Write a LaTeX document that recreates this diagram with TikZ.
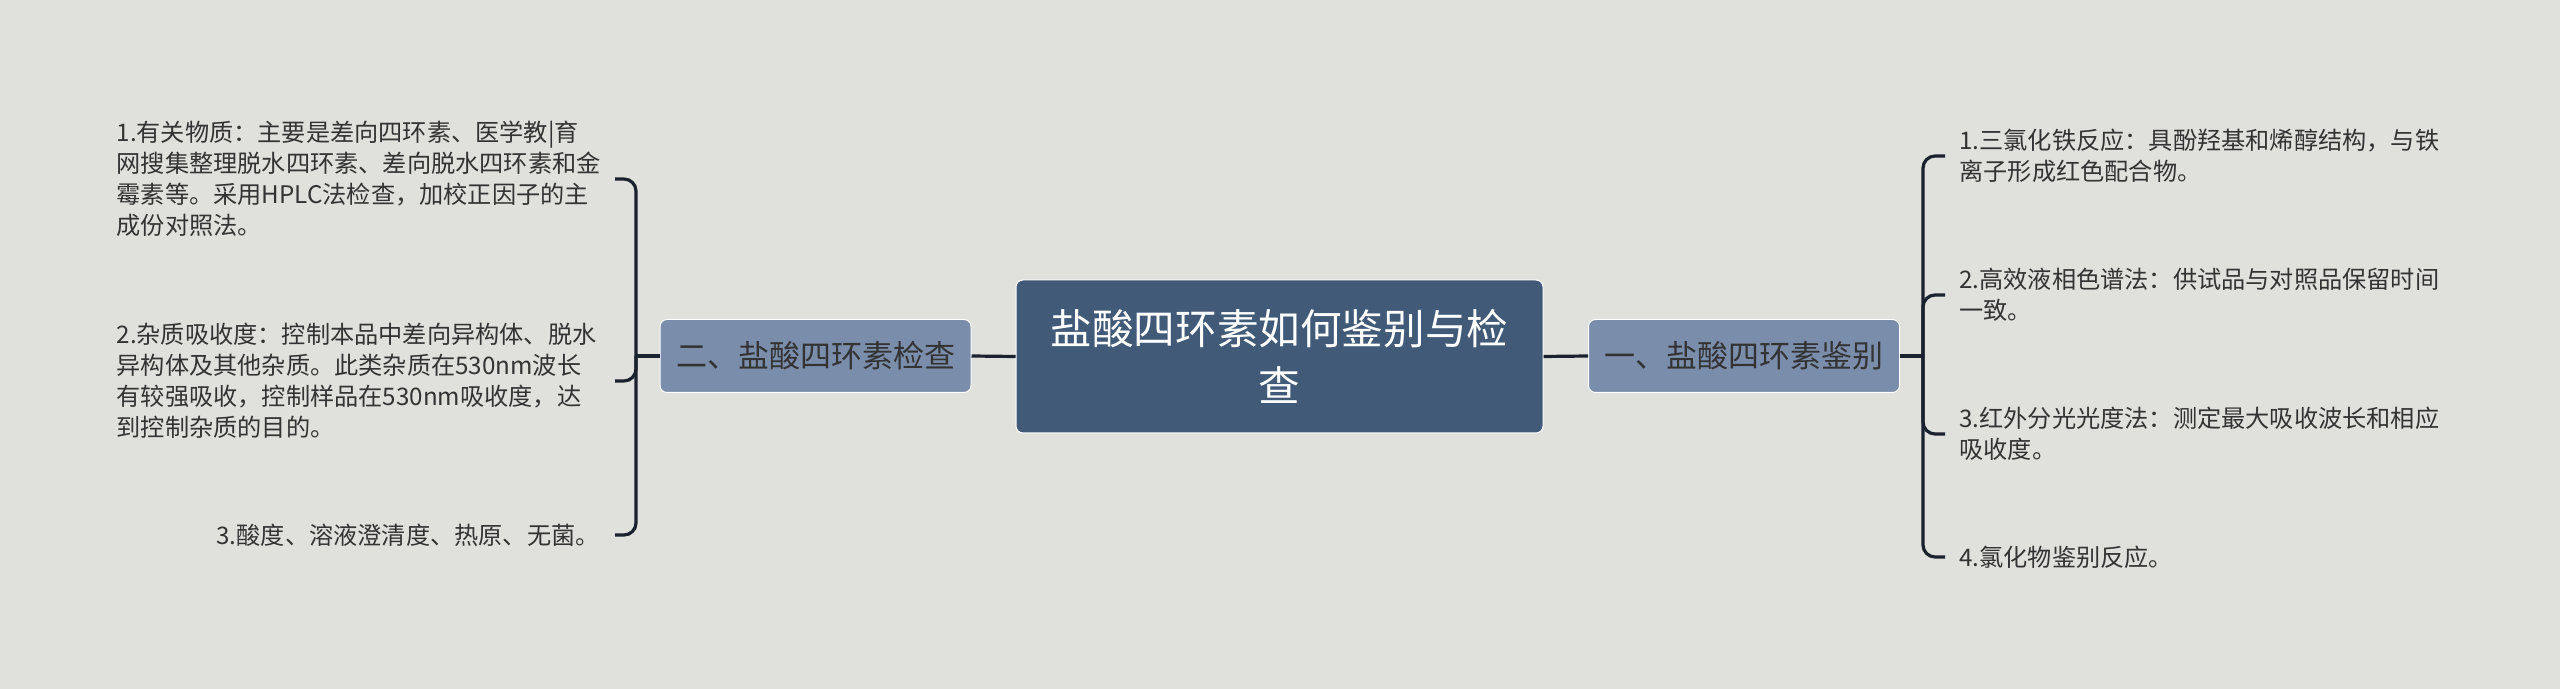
\documentclass[tikz,border=0pt]{standalone}
\usepackage{fontspec}
\setmainfont{Noto Sans CJK SC}
\definecolor{bgc}{HTML}{E0E1DC}
\definecolor{rootc}{HTML}{415A78}
\definecolor{subc}{HTML}{7A8EAB}
\definecolor{linec}{HTML}{1A2230}
\definecolor{txtc}{HTML}{333333}
\begin{document}
\begin{tikzpicture}[x=0.5pt,y=-0.5pt,
  rootbox/.style={draw=white, line width=0.5pt, fill=rootc, rounded corners=3.5pt,
    minimum width=263.5pt, minimum height=76.5pt, text=white, align=center, inner sep=0pt,
    font=\fontsize{20.8pt}{28.5pt}\selectfont},
  subbox/.style={draw=white, line width=0.5pt, fill=subc, rounded corners=3.5pt,
    minimum width=155.5pt, minimum height=36.5pt, text=txtc, inner sep=0pt,
    font=\fontsize{15.5pt}{18pt}\selectfont},
  leaf/.style={text=txtc, inner xsep=7pt, inner ysep=0pt,
    font=\fontsize{12.1pt}{15.5pt}\selectfont},
  conn/.style={draw=linec, line width=1.6pt},
  branch/.style={conn, rounded corners=6pt}]
\fill[bgc] (0,0) rectangle (2560,689);
\useasboundingbox (0,0) rectangle (2560,689);

\node[rootbox] (root) at (1279.5,356.5) {盐酸四环素如何鉴别与检\\查};
\node[subbox] (lsub) at (815.5,356) {二、盐酸四环素检查};
\node[subbox] (rsub) at (1744,356) {一、盐酸四环素鉴别};

\coordinate (ltrunk) at (636,356);
\coordinate (rtrunk) at (1923,356);

\node[leaf, anchor=east, text width=242pt, align=left] (l1) at (615,179)
  {1.有关物质：主要是差向四环素、医学教|育\\网搜集整理脱水四环素、差向脱水四环素和金\\霉素等。采用HPLC法检查，加校正因子的主\\成份对照法。};
\node[leaf, anchor=east, text width=242pt, align=left] (l2) at (615,381)
  {2.杂质吸收度：控制本品中差向异构体、脱水\\异构体及其他杂质。此类杂质在530nm波长\\有较强吸收，控制样品在530nm吸收度，达\\到控制杂质的目的。};
\node[leaf, anchor=east, inner xsep=7.5pt] (l3) at (615,535)
  {3.酸度、溶液澄清度、热原、无菌。};

\node[leaf, anchor=west, align=left] (r1) at (1945,156)
  {1.三氯化铁反应：具酚羟基和烯醇结构，与铁\\离子形成红色配合物。};
\node[leaf, anchor=west, align=left] (r2) at (1945,295)
  {2.高效液相色谱法：供试品与对照品保留时间\\一致。};
\node[leaf, anchor=west, align=left] (r3) at (1945,434)
  {3.红外分光光度法：测定最大吸收波长和相应\\吸收度。};
\node[leaf, anchor=west, align=left] (r4) at (1945,557)
  {4.氯化物鉴别反应。};

\draw[conn] (root.west) -- (lsub.east);
\draw[conn] (root.east) -- (rsub.west);
\draw[conn] (lsub.west) -- (ltrunk);
\draw[conn] (rsub.east) -- (rtrunk);

\draw[branch] (ltrunk) |- (l1.east);
\draw[branch] (ltrunk) |- (l2.east);
\draw[branch] (ltrunk) |- (l3.east);

\draw[branch] (rtrunk) |- (r1.west);
\draw[branch] (rtrunk) |- (r2.west);
\draw[branch] (rtrunk) |- (r3.west);
\draw[branch] (rtrunk) |- (r4.west);
\end{tikzpicture}
\end{document}
